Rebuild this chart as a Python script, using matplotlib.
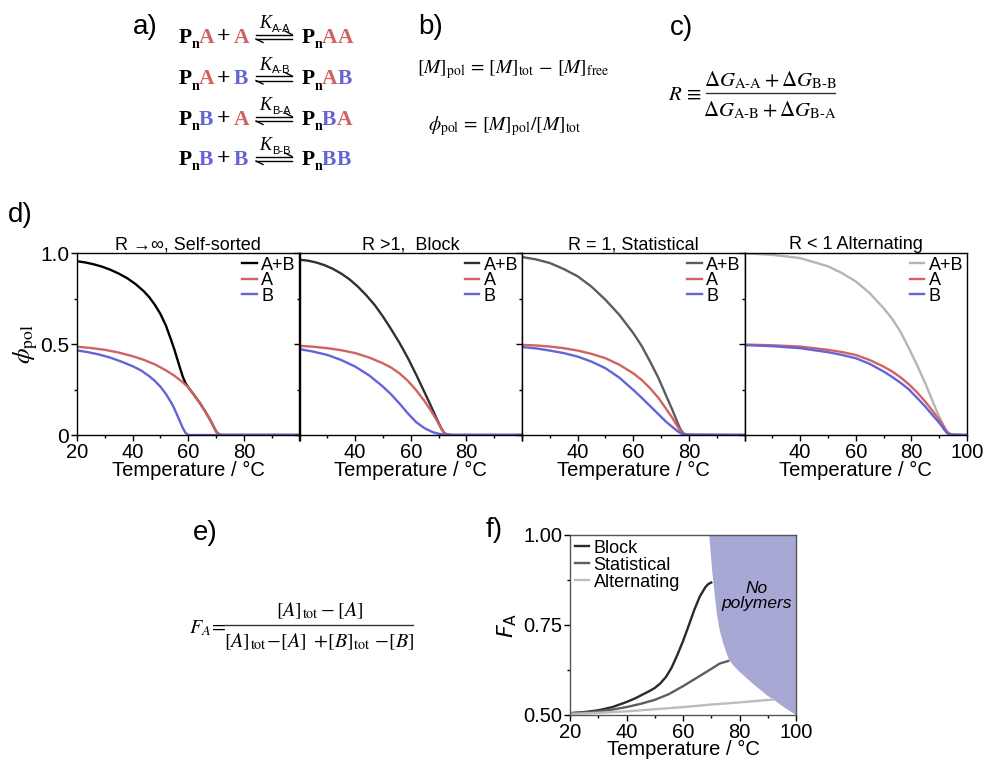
import matplotlib
matplotlib.use("Agg")
import matplotlib.pyplot as plt
from matplotlib.ticker import FixedLocator, FuncFormatter

plt.rcParams['font.family'] = ['Liberation Sans', 'DejaVu Sans']
plt.rcParams['mathtext.fontset'] = 'stix'

W, H = 989, 763

# ---------------- data (panel d) ----------------
ss_T   = [20, 23, 26, 29, 32, 35, 38, 41, 44, 46, 48, 50, 52, 54, 55, 56, 57, 58, 59, 60, 62, 64, 66, 68, 69, 70, 71, 72, 80, 100]
ss_tot = [0.955, 0.948, 0.938, 0.925, 0.908, 0.887, 0.862, 0.83, 0.79, 0.757, 0.715, 0.665, 0.6, 0.515, 0.47, 0.42, 0.37, 0.322, 0.285, 0.262,
          0.222, 0.18, 0.132, 0.08, 0.05, 0.02, 0.004, 0.0, 0.0, 0.0]
ss_TA  = [20, 25, 30, 35, 40, 44, 48, 52, 55, 58, 60, 62, 64, 66, 68, 69, 70, 71, 72, 80, 100]
ss_A   = [0.485, 0.478, 0.468, 0.453, 0.433, 0.413, 0.388, 0.355, 0.326, 0.29, 0.262, 0.222, 0.18, 0.132, 0.08, 0.05, 0.02, 0.004, 0.0, 0.0, 0.0]
ss_TB  = [20, 24, 28, 32, 36, 40, 43, 46, 48, 50, 52, 54, 55, 56, 57, 58, 59, 60, 80, 100]
ss_B   = [0.465, 0.455, 0.442, 0.425, 0.403, 0.378, 0.355, 0.323, 0.297, 0.265, 0.225, 0.175, 0.145, 0.11, 0.075, 0.04, 0.012, 0.0, 0.0, 0.0]

bl_T   = [20, 23, 26, 29, 32, 35, 38, 41, 44, 47, 50, 53, 56, 59, 62, 65, 67, 69, 71, 72, 73, 75, 100]
bl_tot = [0.963, 0.958, 0.948, 0.933, 0.913, 0.887, 0.855, 0.815, 0.768, 0.715, 0.651, 0.58, 0.505, 0.422, 0.33, 0.233, 0.168, 0.10, 0.035, 0.012, 0.003, 0.0, 0.0]
bl_TA  = [20, 25, 30, 35, 40, 45, 50, 53, 56, 59, 62, 65, 67, 69, 71, 72, 73, 75, 100]
bl_A   = [0.49, 0.485, 0.477, 0.466, 0.45, 0.426, 0.394, 0.37, 0.338, 0.297, 0.245, 0.185, 0.14, 0.09, 0.035, 0.012, 0.003, 0.0, 0.0]
bl_TB  = [20, 25, 30, 35, 40, 45, 50, 53, 56, 59, 62, 65, 68, 70, 72, 74, 100]
bl_B   = [0.472, 0.458, 0.44, 0.412, 0.376, 0.328, 0.266, 0.222, 0.172, 0.118, 0.07, 0.037, 0.015, 0.007, 0.002, 0.0, 0.0]

st_T   = [20, 25, 30, 35, 40, 45, 50, 55, 60, 63, 66, 69, 72, 74, 76, 77, 78, 79, 80, 100]
st_tot = [0.978, 0.965, 0.945, 0.912, 0.872, 0.815, 0.743, 0.66, 0.56, 0.49, 0.405, 0.315, 0.21, 0.14, 0.065, 0.03, 0.01, 0.003, 0.001, 0.0]
st_A   = [0.495, 0.492, 0.486, 0.477, 0.464, 0.446, 0.422, 0.386, 0.339, 0.303, 0.258, 0.205, 0.14, 0.095, 0.045, 0.02, 0.007, 0.002, 0.001, 0.0]
st_B   = [0.483, 0.476, 0.464, 0.45, 0.431, 0.403, 0.367, 0.315, 0.248, 0.205, 0.16, 0.115, 0.07, 0.045, 0.02, 0.01, 0.003, 0.001, 0.001, 0.0]

al_T   = [20, 30, 40, 50, 55, 60, 65, 70, 73, 76, 79, 82, 85, 87, 89, 91, 92, 93, 94, 95, 100]
al_tot = [0.998, 0.99, 0.972, 0.927, 0.89, 0.844, 0.78, 0.697, 0.64, 0.57, 0.48, 0.385, 0.284, 0.21, 0.135, 0.07, 0.04, 0.018, 0.007, 0.003, 0.0]
al_A   = [0.497, 0.493, 0.486, 0.468, 0.456, 0.44, 0.412, 0.376, 0.35, 0.318, 0.28, 0.235, 0.183, 0.145, 0.105, 0.062, 0.035, 0.012, 0.004, 0.002, 0.0]
al_B   = [0.494, 0.488, 0.477, 0.455, 0.44, 0.422, 0.391, 0.349, 0.32, 0.288, 0.252, 0.205, 0.156, 0.12, 0.085, 0.048, 0.025, 0.008, 0.003, 0.001, 0.0]

d_titles = ["R \u2192\u221e, Self-sorted", "R >1,  Block", "R = 1, Statistical", "R < 1 Alternating"]
series_labels = ["A+B", "A", "B"]
y_ticks = [0, 0.5, 1.0]
y_ticklabels = ["0", "0.5", "1.0"]
x_ticks = [20, 40, 60, 80, 100]

# ---------------- data (panel f) ----------------
fb_T = [20, 25, 30, 35, 40, 43, 46, 48, 50, 52, 54, 56, 58, 60, 62, 64, 66, 68, 69, 70]
fb_F = [0.505, 0.508, 0.513, 0.522, 0.536, 0.546, 0.558, 0.566, 0.575, 0.588, 0.606, 0.632, 0.667, 0.705, 0.748, 0.792, 0.83, 0.856, 0.864, 0.868]
fs_T = [20, 25, 30, 35, 40, 45, 50, 55, 60, 65, 70, 73, 76]
fs_F = [0.505, 0.507, 0.51, 0.515, 0.522, 0.531, 0.542, 0.558, 0.58, 0.604, 0.628, 0.643, 0.65]
fa_T = [20, 30, 40, 50, 60, 70, 80, 92]
fa_F = [0.503, 0.506, 0.51, 0.516, 0.522, 0.529, 0.535, 0.543]
nb_T = [69.3, 69.6, 70.0, 70.4, 70.8, 71.3, 72.0, 73.0, 74.2, 75.5, 76.4, 78, 80, 85, 90, 92, 96, 100]
nb_F = [1.0, 0.97, 0.93, 0.895, 0.866, 0.83, 0.78, 0.735, 0.70, 0.67, 0.652, 0.636, 0.62, 0.585, 0.553, 0.543, 0.52, 0.5]
f_labels = ["Block", "Statistical", "Alternating"]
f_yticks = [0.50, 0.75, 1.00]

RED = '#d26262'
BLUE = '#6464d6'
TOT_COLORS = ['#000000', '#303030', '#5c5c5c', '#b5b5b5']
F_COLORS = ['#2a2a2a', '#5e5e5e', '#bdbdbd']
FILL = '#a8a8d4'

fig = plt.figure(figsize=(W / 100, H / 100), dpi=100)

# ---------------- panel d ----------------
panels = [(ss_T, ss_tot, ss_TA, ss_A, ss_TB, ss_B),
          (bl_T, bl_tot, bl_TA, bl_A, bl_TB, bl_B),
          (st_T, st_tot, st_T, st_A, st_T, st_B),
          (al_T, al_tot, al_T, al_A, al_T, al_B)]
x0, pw, top, bot = 77, 222.5, 253, 435
for i, (Tt, tot, TA, A, TB, B) in enumerate(panels):
    ax = fig.add_axes([(x0 + i * pw) / W, 1 - bot / H, pw / W, (bot - top) / H])
    ax.plot(Tt, tot, color=TOT_COLORS[i], lw=1.7, label=series_labels[0])
    ax.plot(TA, A, color=RED, lw=1.7, label=series_labels[1])
    ax.plot(TB, B, color=BLUE, lw=1.7, label=series_labels[2])
    ax.set_xlim(20, 100)
    ax.set_ylim(0, 1.0)
    ax.xaxis.set_major_locator(FixedLocator(x_ticks))
    ax.xaxis.set_minor_locator(FixedLocator([30, 50, 70, 90]))
    ax.yaxis.set_major_locator(FixedLocator(y_ticks))
    ax.yaxis.set_minor_locator(FixedLocator([0.25, 0.75]))
    hide = []
    if i > 0:
        hide.append(20)
    if i < 3:
        hide.append(100)
    ax.xaxis.set_major_formatter(FuncFormatter(lambda v, p, hide=hide: '' if any(abs(v - h) < 1e-6 for h in hide) else f'{v:g}'))
    if i == 0:
        ax.set_yticklabels(y_ticklabels)
        ax.set_ylabel(r'$\phi_{\mathrm{pol}}$', fontsize=18, labelpad=0)
    else:
        ax.set_yticklabels([])
    ax.tick_params(which='both', direction='out', top=False, right=False, width=1)
    ax.tick_params(axis='x', labelsize=14.5, pad=2)
    ax.tick_params(axis='y', labelsize=15, pad=1.5)
    ax.tick_params(which='major', length=4)
    ax.tick_params(which='minor', length=2.5)
    for s in ax.spines.values():
        s.set_linewidth(1.0)
    ax.set_xlabel('Temperature / \u00b0C', fontsize=14.5, labelpad=-1)
    ax.set_title(d_titles[i], fontsize=13, pad=1.5)
    ax.legend(loc='upper right', frameon=False, handlelength=0.8, handletextpad=0.25,
              labelspacing=-0.08, borderpad=0.1, borderaxespad=0.1, fontsize=13)

# ---------------- panel f ----------------
axf = fig.add_axes([570 / W, 1 - 715 / H, 226 / W, 180 / H])
axf.fill(nb_T + [100, 100], nb_F + [0.5, 1.0], color=FILL, lw=0, zorder=0)
axf.plot(fb_T, fb_F, color=F_COLORS[0], lw=1.7, label=f_labels[0])
axf.plot(fs_T, fs_F, color=F_COLORS[1], lw=1.7, label=f_labels[1])
axf.plot(fa_T, fa_F, color=F_COLORS[2], lw=1.7, label=f_labels[2])
axf.set_xlim(20, 100)
axf.set_ylim(0.5, 1.0)
axf.xaxis.set_major_locator(FixedLocator(x_ticks))
axf.xaxis.set_minor_locator(FixedLocator([30, 50, 70, 90]))
axf.yaxis.set_major_locator(FixedLocator(f_yticks))
axf.yaxis.set_minor_locator(FixedLocator([0.625, 0.875]))
axf.set_yticklabels([f'{v:.2f}' for v in f_yticks])
axf.tick_params(which='both', direction='out', top=False, right=False, labelsize=14.5, width=1, pad=1.5)
axf.tick_params(which='major', length=4)
axf.tick_params(which='minor', length=2.5)
for s in axf.spines.values():
    s.set_linewidth(1.0)
    s.set_color('#555555')
axf.set_xlabel('Temperature / \u00b0C', fontsize=14.5, labelpad=-1)
axf.set_ylabel(r'$F_{\mathrm{A}}$', fontsize=16, labelpad=3, math_fontfamily='dejavusans')
axf.legend(loc='upper left', frameon=False, handlelength=0.8, handletextpad=0.25,
           labelspacing=0.0, borderpad=0.1, borderaxespad=0.15, fontsize=13)
axf.text(86, 0.83, 'No\npolymers', style='italic', fontsize=12.5, ha='center', va='center', linespacing=1.0)

# ---------------- overlay for text panels ----------------
ov = fig.add_axes([0, 0, 1, 1])
ov.set_xlim(0, W)
ov.set_ylim(H, 0)
ov.axis('off')

lab_kw = dict(fontsize=20, ha='left', va='center')
ov.text(133, 27, 'a)', **lab_kw)
ov.text(418, 27, 'b)', **lab_kw)
ov.text(670, 28, 'c)', **lab_kw)
ov.text(8, 215, 'd)', **lab_kw)
ov.text(193, 533, 'e)', **lab_kw)
ov.text(486, 530, 'f)', **lab_kw)

# panel a: reactions
SERIF = ['Liberation Serif', 'DejaVu Serif']
cmap = {'A': RED, 'B': BLUE}
reactions = [('A', 'A', 'A-A'), ('A', 'B', 'A-B'), ('B', 'A', 'B-A'), ('B', 'B', 'B-B')]
baselines = [43, 84.5, 125, 165]
big = dict(fontsize=15.5, fontweight='bold', family=SERIF, va='baseline', ha='left')
sub = dict(fontsize=10, fontweight='bold', family=SERIF, va='baseline', ha='left')
for (m1, m2, k), yb in zip(reactions, baselines):
    ov.text(179, yb, 'P', color='black', **big)
    ov.text(191.5, yb + 5, 'n', color='black', **sub)
    ov.text(199, yb, m1, color=cmap[m1], **big)
    ov.text(223.5, yb - 0.5, '+', color='black', fontsize=17, fontweight='bold', family=SERIF, ha='center', va='baseline')
    ov.text(234, yb, m2, color=cmap[m2], **big)
    # equilibrium harpoons
    ya, yb2 = yb - 8.5, yb - 4
    ov.plot([256, 292], [ya, ya], color='black', lw=1.0)
    ov.plot([292, 285], [ya, ya - 3.5], color='black', lw=1.0)
    ov.plot([256, 292], [yb2, yb2], color='black', lw=1.0)
    ov.plot([256, 263], [yb2, yb2 + 3.5], color='black', lw=1.0)
    ov.text(259, yb - 15, 'K', style='italic', fontsize=13, family=SERIF, va='baseline', ha='left')
    ov.text(272, yb - 11.5, k, fontsize=8, va='baseline', ha='left')
    ov.text(302, yb, 'P', color='black', **big)
    ov.text(314.5, yb + 5, 'n', color='black', **sub)
    t1 = ov.text(322, yb, m1, color=cmap[m1], **big)
    ov.annotate(m2, xy=(1, 0), xycoords=t1, xytext=(0, 0), textcoords='offset points',
                color=cmap[m2], fontsize=15.5, fontweight='bold', family=SERIF, va='bottom', ha='left')

# panel b
eq_kw = dict(fontsize=14, ha='left', va='baseline')
ov.text(417, 73, r'$[M]_{\mathrm{pol}}\,=\,[M]_{\mathrm{tot}}\,-\,[M]_{\mathrm{free}}$', **eq_kw)
ov.text(428, 130, r'$\phi_{\mathrm{pol}}\,=\,[M]_{\mathrm{pol}}/[M]_{\mathrm{tot}}$', **eq_kw)

# panel c
ov.text(668, 94, r'$R\,\equiv$', fontsize=15, ha='left', va='center')
ov.plot([706, 835], [93, 93], color='#333333', lw=1.0)
ov.text(770, 80, r'$\Delta G_{\mathrm{A\text{-}A}}+\Delta G_{\mathrm{B\text{-}B}}$', fontsize=15, ha='center', va='center')
ov.text(770, 110, r'$\Delta G_{\mathrm{A\text{-}B}}+\Delta G_{\mathrm{B\text{-}A}}$', fontsize=15, ha='center', va='center')

# panel e
ov.text(189, 628, r'$F_A\!=$', fontsize=14.5, ha='left', va='center')
ov.plot([225, 413], [625, 625], color='#333333', lw=1.0)
ov.text(320, 611, r'$[A]_{\mathrm{tot}}-[A]$', fontsize=14.5, ha='center', va='center')
ov.text(319, 642, r'$[A]_{\mathrm{tot}}\!-\![A]\;+\![B]_{\mathrm{tot}}\,-\![B]$', fontsize=14.5, ha='center', va='center')

fig.savefig('out.png', dpi=100)
